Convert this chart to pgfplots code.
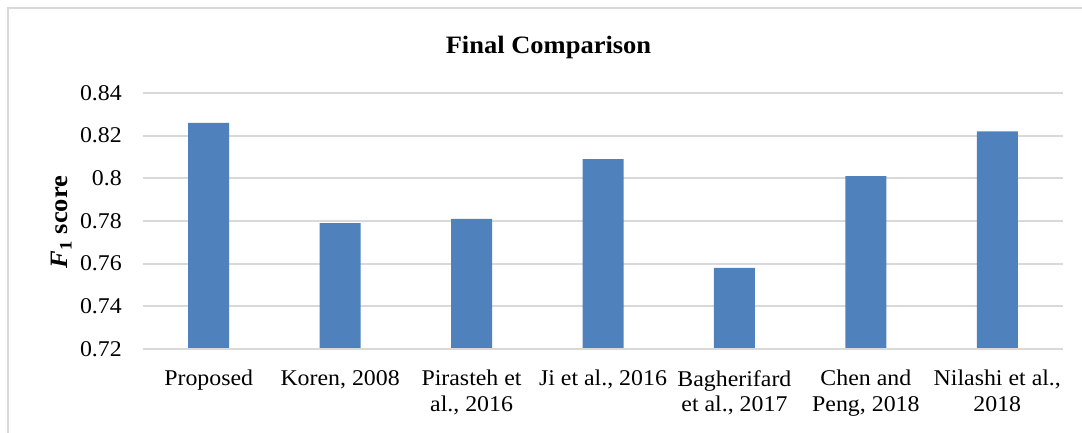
\documentclass[border=0pt]{standalone}
\usepackage{fontspec}
\setmainfont{Liberation Serif}[FakeStretch=1.06]
\usepackage{pgfplots}
\pgfplotsset{compat=1.18}
\definecolor{barblue}{HTML}{4F81BD}
\definecolor{gridgray}{HTML}{D9D9D9}

\begin{document}
\begin{tikzpicture}
\begin{axis}[
  scale only axis,
  width=920pt, height=256pt,
  at={(0,0)}, anchor=south west,
  xmin=-0.5, xmax=6.5,
  ymin=0.72, ymax=0.84,
  ybar, bar width=41pt,
  axis line style={draw=none},
  major tick length=0pt,
  ymajorgrids=true,
  grid style={gridgray, line width=1.7pt},
  ytick={0.72,0.74,0.76,0.78,0.8,0.82,0.84},
  yticklabels={0.72,0.74,0.76,0.78,0.8,0.82,0.84},
  xtick={0,1,2,3,4,5,6},
  xticklabels={Proposed, {Koren, 2008}, {Pirasteh et\\al., 2016}, {Ji et al., 2016},
    {Bagherifard\\et al., 2017}, {Chen and\\Peng, 2018}, {Nilashi et al.,\\2018}},
  yticklabel style={font=\fontsize{22.5}{25.5}\selectfont, inner sep=0pt, anchor=east, xshift=-21pt},
  xticklabel style={font=\fontsize{22.5}{25.5}\selectfont, inner sep=0pt, anchor=north, align=center, yshift=-21pt},
]
\addplot[fill=barblue, draw=none] coordinates {
  (0,0.826) (1,0.779) (2,0.781) (3,0.809) (4,0.758) (5,0.801) (6,0.822)
};
\draw[gridgray, line width=1.9pt] (axis cs:-0.5,0.72) -- (axis cs:6.5,0.72);
\end{axis}
\node[anchor=base, font=\fontsize{25}{30}\selectfont\bfseries] at (405.5pt,295.7pt) {Final Comparison};
\node[anchor=base, rotate=90, font=\fontsize{25}{30}\selectfont\bfseries] at (-75pt,127pt) {\textit{F}\textsubscript{1} score};
\draw[gridgray, line width=1.8pt] (-135pt,-90pt) -- (-135pt,341pt) -- (950pt,341pt);
\pgfresetboundingbox
\useasboundingbox (-143pt,-83pt) rectangle (939pt,349pt);
\end{tikzpicture}
\end{document}
